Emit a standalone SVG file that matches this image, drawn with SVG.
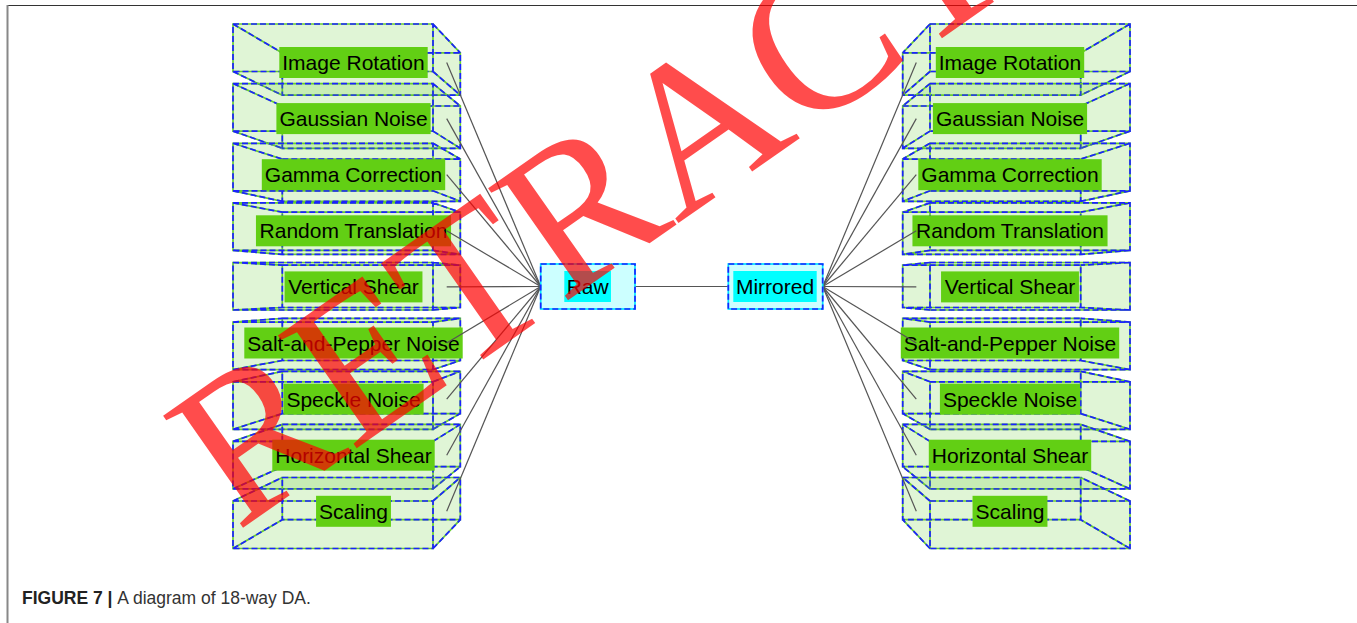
<svg xmlns="http://www.w3.org/2000/svg" xmlns:xlink="http://www.w3.org/1999/xlink" width="1357" height="623" viewBox="0 0 1357 623">
  <style>
    .face{fill:#66cc33;fill-opacity:.2}
    .eg{fill:none;stroke:#66cc33;stroke-width:1.7}
    .eb{fill:none;stroke:#1a22ff;stroke-width:1.7;stroke-dasharray:6 3}
    .lbl{fill:#62cf14}
    .t{font-family:"Liberation Sans",Arial,sans-serif;font-size:21px;fill:#000;text-anchor:middle}
    .cn{fill:none;stroke:#555;stroke-width:1.2}
    .hubo{fill:#ccffff}
    .hube{fill:none;stroke:#00e5ff;stroke-width:1.7}
    .hubd{fill:none;stroke:#1a22ff;stroke-width:1.7;stroke-dasharray:6 3}
    .hubi{fill:#00ffff}
    .cap{font-family:"Liberation Sans",Arial,sans-serif;font-size:17.5px;fill:#333}
  </style>
  <defs>
    <!-- wireframe edges of each perspective box: front face, back face, four depth edges -->
    <path id="L0" d="M233 24H433V71.5H233ZM282.3 52.9H460.3V95.2H282.3ZM233 24L282.3 52.9M433 24L460.3 52.9M433 71.5L460.3 95.2M233 71.5L282.3 95.2"/>
    <path id="L1" d="M233 83.6H433V131.1H233ZM282.3 106H460.3V148.3H282.3ZM233 83.6L282.3 106M433 83.6L460.3 106M433 131.1L460.3 148.3M233 131.1L282.3 148.3"/>
    <path id="L2" d="M233 143.3H433V190.8H233ZM282.3 159.1H460.3V201.3H282.3ZM233 143.3L282.3 159.1M433 143.3L460.3 159.1M433 190.8L460.3 201.3M233 190.8L282.3 201.3"/>
    <path id="L3" d="M233 202.9H433V250.4H233ZM282.3 212.2H460.3V254.4H282.3ZM233 202.9L282.3 212.2M433 202.9L460.3 212.2M433 250.4L460.3 254.4M233 250.4L282.3 254.4"/>
    <path id="L4" d="M233 262.5H433V310H233ZM282.3 265.2H460.3V307.5H282.3ZM233 262.5L282.3 265.2M433 262.5L460.3 265.2M433 310L460.3 307.5M233 310L282.3 307.5"/>
    <path id="L5" d="M233 322.1H433V369.6H233ZM282.3 318.3H460.3V360.5H282.3ZM233 322.1L282.3 318.3M433 322.1L460.3 318.3M433 369.6L460.3 360.5M233 369.6L282.3 360.5"/>
    <path id="L6" d="M233 381.8H433V429.3H233ZM282.3 371.3H460.3V413.6H282.3ZM233 381.8L282.3 371.3M433 381.8L460.3 371.3M433 429.3L460.3 413.6M233 429.3L282.3 413.6"/>
    <path id="L7" d="M233 441.4H433V488.9H233ZM282.3 424.4H460.3V466.7H282.3ZM233 441.4L282.3 424.4M433 441.4L460.3 424.4M433 488.9L460.3 466.7M233 488.9L282.3 466.7"/>
    <path id="L8" d="M233 501H433V548.5H233ZM282.3 477.5H460.3V519.7H282.3ZM233 501L282.3 477.5M433 501L460.3 477.5M433 548.5L460.3 519.7M233 548.5L282.3 519.7"/>
    <path id="R0" d="M930 24H1130V71.5H930ZM902.7 52.9H1080.7V95.2H902.7ZM930 24L902.7 52.9M1130 24L1080.7 52.9M1130 71.5L1080.7 95.2M930 71.5L902.7 95.2"/>
    <path id="R1" d="M930 83.6H1130V131.1H930ZM902.7 106H1080.7V148.3H902.7ZM930 83.6L902.7 106M1130 83.6L1080.7 106M1130 131.1L1080.7 148.3M930 131.1L902.7 148.3"/>
    <path id="R2" d="M930 143.3H1130V190.8H930ZM902.7 159.1H1080.7V201.3H902.7ZM930 143.3L902.7 159.1M1130 143.3L1080.7 159.1M1130 190.8L1080.7 201.3M930 190.8L902.7 201.3"/>
    <path id="R3" d="M930 202.9H1130V250.4H930ZM902.7 212.2H1080.7V254.4H902.7ZM930 202.9L902.7 212.2M1130 202.9L1080.7 212.2M1130 250.4L1080.7 254.4M930 250.4L902.7 254.4"/>
    <path id="R4" d="M930 262.5H1130V310H930ZM902.7 265.2H1080.7V307.5H902.7ZM930 262.5L902.7 265.2M1130 262.5L1080.7 265.2M1130 310L1080.7 307.5M930 310L902.7 307.5"/>
    <path id="R5" d="M930 322.1H1130V369.6H930ZM902.7 318.3H1080.7V360.5H902.7ZM930 322.1L902.7 318.3M1130 322.1L1080.7 318.3M1130 369.6L1080.7 360.5M930 369.6L902.7 360.5"/>
    <path id="R6" d="M930 381.8H1130V429.3H930ZM902.7 371.3H1080.7V413.6H902.7ZM930 381.8L902.7 371.3M1130 381.8L1080.7 371.3M1130 429.3L1080.7 413.6M930 429.3L902.7 413.6"/>
    <path id="R7" d="M930 441.4H1130V488.9H930ZM902.7 424.4H1080.7V466.7H902.7ZM930 441.4L902.7 424.4M1130 441.4L1080.7 424.4M1130 488.9L1080.7 466.7M930 488.9L902.7 466.7"/>
    <path id="R8" d="M930 501H1130V548.5H930ZM902.7 477.5H1080.7V519.7H902.7ZM930 501L902.7 477.5M1130 501L1080.7 477.5M1130 548.5L1080.7 519.7M930 548.5L902.7 519.7"/>
  </defs>

  <!-- figure frame -->
  <g id="frame">
    <line x1="7" y1="5.5" x2="1357" y2="5.5" stroke="#333" stroke-width="1.2"/>
    <line x1="7.5" y1="5" x2="7.5" y2="623" stroke="#888" stroke-width="2"/>
  </g>

  <!-- left stack: augmentations of the raw image -->
  <g id="raw-image-rotation">
    <polygon class="face" points="233,24 433,24 460.3,52.9 460.3,95.2 282.3,95.2 233,71.5"/>
    <use xlink:href="#L0" class="eg"/><use xlink:href="#L0" class="eb"/>
    <rect class="lbl" x="279.3" y="47" width="148.4" height="31"/>
    <text class="t" x="353.5" y="70">Image Rotation</text>
  </g>
  <g id="raw-gaussian-noise">
    <polygon class="face" points="233,83.6 433,83.6 460.3,106 460.3,148.3 282.3,148.3 233,131.1"/>
    <use xlink:href="#L1" class="eg"/><use xlink:href="#L1" class="eb"/>
    <rect class="lbl" x="276.4" y="103.1" width="154.2" height="31"/>
    <text class="t" x="353.5" y="126.1">Gaussian Noise</text>
  </g>
  <g id="raw-gamma-correction">
    <polygon class="face" points="233,143.3 433,143.3 460.3,159.1 460.3,201.3 282.3,201.3 233,190.8"/>
    <use xlink:href="#L2" class="eg"/><use xlink:href="#L2" class="eb"/>
    <rect class="lbl" x="261.8" y="159.2" width="183.4" height="31"/>
    <text class="t" x="353.5" y="182.2">Gamma Correction</text>
  </g>
  <g id="raw-random-translation">
    <polygon class="face" points="233,202.9 433,202.9 460.3,212.2 460.3,254.4 282.3,254.4 233,250.4"/>
    <use xlink:href="#L3" class="eg"/><use xlink:href="#L3" class="eb"/>
    <rect class="lbl" x="255.95" y="215.3" width="195.1" height="31"/>
    <text class="t" x="353.5" y="238.3">Random Translation</text>
  </g>
  <g id="raw-vertical-shear">
    <polygon class="face" points="233,262.5 433,262.5 460.3,265.2 460.3,307.5 433,310 233,310"/>
    <use xlink:href="#L4" class="eg"/><use xlink:href="#L4" class="eb"/>
    <rect class="lbl" x="284.55" y="271.4" width="137.9" height="31"/>
    <text class="t" x="353.5" y="294.4">Vertical Shear</text>
  </g>
  <g id="raw-salt-and-pepper-noise">
    <polygon class="face" points="233,322.1 282.3,318.3 460.3,318.3 460.3,360.5 433,369.6 233,369.6"/>
    <use xlink:href="#L5" class="eg"/><use xlink:href="#L5" class="eb"/>
    <rect class="lbl" x="244.3" y="327.5" width="218.4" height="31"/>
    <text class="t" x="353.5" y="350.5">Salt-and-Pepper Noise</text>
  </g>
  <g id="raw-speckle-noise">
    <polygon class="face" points="233,381.8 282.3,371.3 460.3,371.3 460.3,413.6 433,429.3 233,429.3"/>
    <use xlink:href="#L6" class="eg"/><use xlink:href="#L6" class="eb"/>
    <rect class="lbl" x="283.4" y="383.6" width="140.2" height="31"/>
    <text class="t" x="353.5" y="406.6">Speckle Noise</text>
  </g>
  <g id="raw-horizontal-shear">
    <polygon class="face" points="233,441.4 282.3,424.4 460.3,424.4 460.3,466.7 433,488.9 233,488.9"/>
    <use xlink:href="#L7" class="eg"/><use xlink:href="#L7" class="eb"/>
    <rect class="lbl" x="272.3" y="439.7" width="162.4" height="31"/>
    <text class="t" x="353.5" y="462.7">Horizontal Shear</text>
  </g>
  <g id="raw-scaling">
    <polygon class="face" points="233,501 282.3,477.5 460.3,477.5 460.3,519.7 433,548.5 233,548.5"/>
    <use xlink:href="#L8" class="eg"/><use xlink:href="#L8" class="eb"/>
    <rect class="lbl" x="316.05" y="495.8" width="74.9" height="31"/>
    <text class="t" x="353.5" y="518.8">Scaling</text>
  </g>

  <!-- right stack: augmentations of the mirrored image -->
  <g id="mir-image-rotation">
    <polygon class="face" points="930,24 1130,24 1130,71.5 1080.7,95.2 902.7,95.2 902.7,52.9"/>
    <use xlink:href="#R0" class="eg"/><use xlink:href="#R0" class="eb"/>
    <rect class="lbl" x="935.8" y="47" width="148.4" height="31"/>
    <text class="t" x="1010" y="70">Image Rotation</text>
  </g>
  <g id="mir-gaussian-noise">
    <polygon class="face" points="930,83.6 1130,83.6 1130,131.1 1080.7,148.3 902.7,148.3 902.7,106"/>
    <use xlink:href="#R1" class="eg"/><use xlink:href="#R1" class="eb"/>
    <rect class="lbl" x="932.9" y="103.1" width="154.2" height="31"/>
    <text class="t" x="1010" y="126.1">Gaussian Noise</text>
  </g>
  <g id="mir-gamma-correction">
    <polygon class="face" points="930,143.3 1130,143.3 1130,190.8 1080.7,201.3 902.7,201.3 902.7,159.1"/>
    <use xlink:href="#R2" class="eg"/><use xlink:href="#R2" class="eb"/>
    <rect class="lbl" x="918.3" y="159.2" width="183.4" height="31"/>
    <text class="t" x="1010" y="182.2">Gamma Correction</text>
  </g>
  <g id="mir-random-translation">
    <polygon class="face" points="930,202.9 1130,202.9 1130,250.4 1080.7,254.4 902.7,254.4 902.7,212.2"/>
    <use xlink:href="#R3" class="eg"/><use xlink:href="#R3" class="eb"/>
    <rect class="lbl" x="912.45" y="215.3" width="195.1" height="31"/>
    <text class="t" x="1010" y="238.3">Random Translation</text>
  </g>
  <g id="mir-vertical-shear">
    <polygon class="face" points="930,262.5 1130,262.5 1130,310 930,310 902.7,307.5 902.7,265.2"/>
    <use xlink:href="#R4" class="eg"/><use xlink:href="#R4" class="eb"/>
    <rect class="lbl" x="941.05" y="271.4" width="137.9" height="31"/>
    <text class="t" x="1010" y="294.4">Vertical Shear</text>
  </g>
  <g id="mir-salt-and-pepper-noise">
    <polygon class="face" points="902.7,318.3 1080.7,318.3 1130,322.1 1130,369.6 930,369.6 902.7,360.5"/>
    <use xlink:href="#R5" class="eg"/><use xlink:href="#R5" class="eb"/>
    <rect class="lbl" x="900.8" y="327.5" width="218.4" height="31"/>
    <text class="t" x="1010" y="350.5">Salt-and-Pepper Noise</text>
  </g>
  <g id="mir-speckle-noise">
    <polygon class="face" points="902.7,371.3 1080.7,371.3 1130,381.8 1130,429.3 930,429.3 902.7,413.6"/>
    <use xlink:href="#R6" class="eg"/><use xlink:href="#R6" class="eb"/>
    <rect class="lbl" x="939.9" y="383.6" width="140.2" height="31"/>
    <text class="t" x="1010" y="406.6">Speckle Noise</text>
  </g>
  <g id="mir-horizontal-shear">
    <polygon class="face" points="902.7,424.4 1080.7,424.4 1130,441.4 1130,488.9 930,488.9 902.7,466.7"/>
    <use xlink:href="#R7" class="eg"/><use xlink:href="#R7" class="eb"/>
    <rect class="lbl" x="928.8" y="439.7" width="162.4" height="31"/>
    <text class="t" x="1010" y="462.7">Horizontal Shear</text>
  </g>
  <g id="mir-scaling">
    <polygon class="face" points="902.7,477.5 1080.7,477.5 1130,501 1130,548.5 930,548.5 902.7,519.7"/>
    <use xlink:href="#R8" class="eg"/><use xlink:href="#R8" class="eb"/>
    <rect class="lbl" x="972.55" y="495.8" width="74.9" height="31"/>
    <text class="t" x="1010" y="518.8">Scaling</text>
  </g>

  <!-- connectors -->
  <g id="connectors" class="cn">
    <line x1="635" y1="286.5" x2="728.3" y2="286.5"/>
    <line x1="540.7" y1="286.5" x2="446.7" y2="62.5"/>
    <line x1="540.7" y1="286.5" x2="446.7" y2="118.6"/>
    <line x1="540.7" y1="286.5" x2="446.7" y2="174.7"/>
    <line x1="540.7" y1="286.5" x2="446.7" y2="230.8"/>
    <line x1="540.7" y1="286.5" x2="446.7" y2="286.9"/>
    <line x1="540.7" y1="286.5" x2="446.7" y2="343"/>
    <line x1="540.7" y1="286.5" x2="446.7" y2="399.1"/>
    <line x1="540.7" y1="286.5" x2="446.7" y2="455.2"/>
    <line x1="540.7" y1="286.5" x2="446.7" y2="511.3"/>
    <line x1="822.7" y1="286.5" x2="916.3" y2="62.5"/>
    <line x1="822.7" y1="286.5" x2="916.3" y2="118.6"/>
    <line x1="822.7" y1="286.5" x2="916.3" y2="174.7"/>
    <line x1="822.7" y1="286.5" x2="916.3" y2="230.8"/>
    <line x1="822.7" y1="286.5" x2="916.3" y2="286.9"/>
    <line x1="822.7" y1="286.5" x2="916.3" y2="343"/>
    <line x1="822.7" y1="286.5" x2="916.3" y2="399.1"/>
    <line x1="822.7" y1="286.5" x2="916.3" y2="455.2"/>
    <line x1="822.7" y1="286.5" x2="916.3" y2="511.3"/>
  </g>

  <!-- source images -->
  <g id="raw">
    <rect class="hubo" x="540.7" y="264" width="94.3" height="45"/>
    <rect class="hube" x="540.7" y="264" width="94.3" height="45"/>
    <rect class="hubd" x="540.7" y="264" width="94.3" height="45"/>
    <rect class="hubi" x="564.3" y="271" width="46.7" height="31"/>
    <text class="t" x="587.7" y="294">Raw</text>
  </g>
  <g id="mirrored">
    <rect class="hubo" x="728.3" y="264" width="94.4" height="45"/>
    <rect class="hube" x="728.3" y="264" width="94.4" height="45"/>
    <rect class="hubd" x="728.3" y="264" width="94.4" height="45"/>
    <rect class="hubi" x="733.3" y="271" width="83.4" height="31"/>
    <text class="t" x="775" y="294">Mirrored</text>
  </g>

  <!-- caption -->
  <text class="cap" x="22" y="604"><tspan font-weight="bold" fill="#222">FIGURE 7 | </tspan>A diagram of 18-way DA.</text>

  <!-- overprinted stamp -->
  <text id="stamp" transform="translate(237,532) rotate(-35)" font-family="'Liberation Serif',serif" font-size="210" fill="#ff0000" fill-opacity="0.7">RETRACTED</text>
</svg>
